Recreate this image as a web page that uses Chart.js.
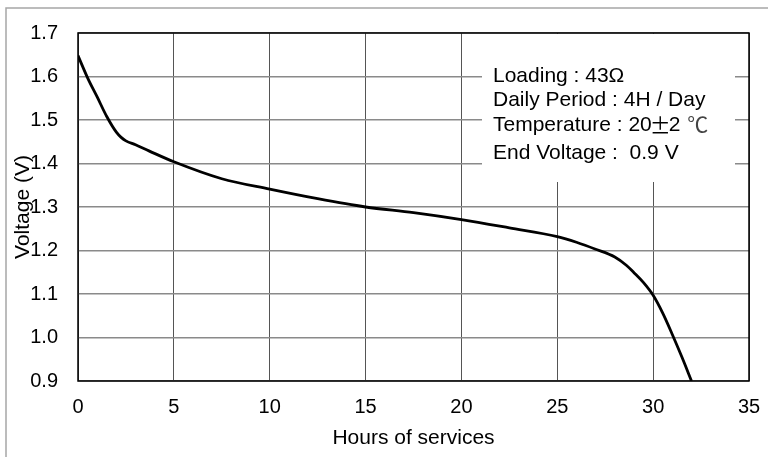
<!DOCTYPE html>
<html>
<head>
<meta charset="utf-8">
<script src="https://cdn.jsdelivr.net/npm/chart.js@4/dist/chart.umd.min.js"></script>
<style>
  html, body { margin: 0; padding: 0; background: #fff; }
  #wrap { width: 768px; height: 457px; }
</style>
</head>
<body>
<div id="wrap"><canvas id="dischargeChart" width="768" height="457"></canvas></div>
<script>
const hours = [0, 0.5, 1, 1.5, 2, 2.25, 2.5, 3, 3.7, 5, 7.5, 10, 12.5, 15, 17.5, 20, 22.5, 25, 26, 27, 28, 28.6, 29, 29.5, 30, 30.5, 31, 31.5, 32]
const volts = [1.648, 1.597, 1.553, 1.508, 1.472, 1.46, 1.452, 1.443, 1.429, 1.404, 1.365, 1.341, 1.319, 1.3, 1.287, 1.271, 1.252, 1.232, 1.219, 1.203, 1.185, 1.166, 1.149, 1.126, 1.097, 1.056, 1.007, 0.955, 0.9]
const noteLines = ['Loading : 43Ω', 'Daily Period : 4H / Day', 'Temperature : 20', 'End Voltage :  0.9 V']

const FONT = 'Arial, "Liberation Sans", sans-serif'
const CJK = '"Noto Sans CJK JP", sans-serif'

// gray frame round the figure, plus the note box over the grid
const decor = {
  id: 'decor',
  beforeDraw(chart) {
    const ctx = chart.ctx
    ctx.save()
    ctx.strokeStyle = '#a6a6a6'
    ctx.lineWidth = 1.5
    ctx.beginPath()
    ctx.moveTo(6, 460)
    ctx.lineTo(6, 8)
    ctx.lineTo(770, 8)
    ctx.stroke()
    ctx.restore()
  },
  beforeDatasetsDraw(chart) {
    const { ctx, chartArea } = chart
    ctx.save()
    ctx.fillStyle = '#fff'
    ctx.fillRect(482, chartArea.top + 1, 253, 182 - chartArea.top - 1)
    ctx.fillStyle = '#000'
    ctx.font = '21px ' + FONT
    ctx.textBaseline = 'alphabetic'
    const base = [82, 106, 131, 159]
    noteLines.forEach((t, i) => ctx.fillText(t, 493, base[i]))

    // the ± and ℃ come from the CJK face, "2" in between
    const x0 = 493 + ctx.measureText(noteLines[2]).width
    ctx.fillText('2', x0 + 17, base[2])
    ctx.font = '21px ' + CJK
    ctx.textAlign = 'center'
    ctx.fillText('±', x0 + 8.5, base[2] + 2)
    ctx.fillStyle = '#444'
    ctx.fillText('℃', x0 + 46, base[2] + 1)
    ctx.restore()
  },
  afterDatasetsDraw(chart) {
    const { ctx, chartArea: a } = chart
    ctx.save()
    ctx.strokeStyle = '#000'
    ctx.lineWidth = 1.5
    ctx.strokeRect(a.left, a.top, a.right - a.left, a.bottom - a.top)
    ctx.restore()
  },
}

new Chart(document.getElementById('dischargeChart'), {
  type: 'line',
  data: {
    labels: hours,
    datasets: [
      {
        data: hours.map((h, i) => ({ x: h, y: volts[i] })),
        borderColor: '#000',
        borderWidth: 2.8,
        pointRadius: 0,
        cubicInterpolationMode: 'monotone',
        fill: false,
      },
    ],
  },
  options: {
    responsive: false,
    animation: false,
    devicePixelRatio: 1,
    layout: { padding: { top: 33, right: 19, left: 0, bottom: 0 } },
    plugins: { legend: { display: false }, tooltip: { enabled: false } },
    scales: {
      x: {
        type: 'linear',
        min: 0,
        max: 35,
        ticks: { stepSize: 5, color: '#000', padding: 14, font: { size: 20, family: FONT } },
        grid: { color: '#555', lineWidth: 1, drawTicks: false },
        border: { display: false },
        title: { display: true, text: 'Hours of services', color: '#000', font: { size: 21, family: FONT }, padding: { top: 0, bottom: 6 } },
        afterFit(s) {
          s.height = 76
          s.paddingLeft = 0
          s.paddingRight = 0
        },
      },
      y: {
        min: 0.9,
        max: 1.7,
        ticks: {
          stepSize: 0.1,
          color: '#000',
          padding: 20,
          font: { size: 20, family: FONT },
          callback: (v) => v.toFixed(1),
        },
        grid: { color: '#8a8a8a', lineWidth: 1.5, drawTicks: false },
        border: { display: false },
        title: { display: true, text: 'Voltage (V)', color: '#000', font: { size: 21, family: FONT }, padding: { top: 11, bottom: 0 } },
        afterFit(s) {
          s.width = 78
          s.paddingTop = 0
          s.paddingBottom = 0
        },
      },
    },
  },
  plugins: [decor],
})
</script>
</body>
</html>
